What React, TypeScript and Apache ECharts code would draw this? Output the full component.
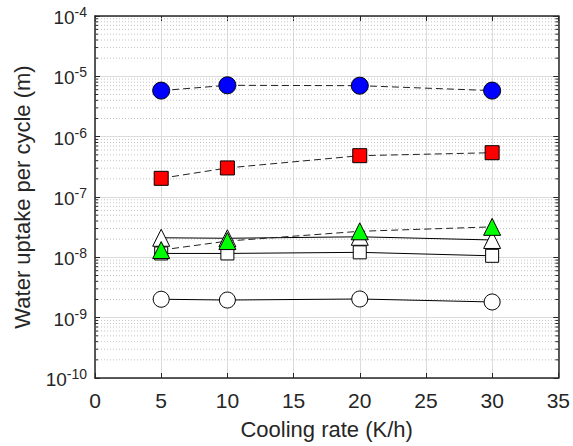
import React, { useEffect, useRef } from "react";
import * as echarts from "echarts";

const coolingRates = [5, 10, 20, 30];
const blueCircles = [5.8e-6, 7.1e-6, 7.0e-6, 5.8e-6];
const redSquares = [2.04e-7, 3.03e-7, 4.84e-7, 5.42e-7];
const greenTriangles = [1.32e-8, 1.86e-8, 2.7e-8, 3.2e-8];
const openTriangles = [2.11e-8, 2.07e-8, 2.19e-8, 1.94e-8];
const openSquares = [1.16e-8, 1.16e-8, 1.21e-8, 1.06e-8];
const openCircles = [2.02e-9, 1.96e-9, 2.04e-9, 1.82e-9];

const decades = [-10, -9, -8, -7, -6, -5];
const minorMultipliers = [2, 3, 4, 5, 6, 7, 8, 9];

const FONT = "Liberation Sans, Arial, Helvetica, sans-serif";
const TXT = "#262626";

export default function App() {
  const ref = useRef<HTMLDivElement>(null);
  useEffect(() => {
    if (!ref.current) return;
    const chart = echarts.init(ref.current, undefined, { renderer: "svg" });
    const pair = (ys: number[]) => coolingRates.map((x, i) => [x, ys[i]]);
    const minorVals: number[][] = [];
    decades.forEach((d) => minorMultipliers.forEach((m) => minorVals.push([0, m * Math.pow(10, d)])));

    const mk = (name: string, ys: number[], symbol: string, size: number, fill: string, dashed: boolean) => ({
      name,
      type: "line",
      data: pair(ys),
      symbol,
      symbolSize: size,
      showAllSymbol: true,
      itemStyle: { color: fill, borderColor: "#000", borderWidth: 1, opacity: 1 },
      lineStyle: { color: dashed ? "#222" : "#000", width: 1, type: dashed ? [7, 4] : "solid" },
      z: 3,
    });

    const axisCommon = {
      axisLine: { show: true, onZero: false, lineStyle: { color: TXT, width: 1.5 } },
      axisTick: { show: true, inside: true, length: 5, lineStyle: { color: TXT, width: 1 } },
    };

    chart.setOption({
      animation: false,
      grid: { left: 95, right: 13, top: 16, bottom: 68, containLabel: false },
      xAxis: [
        {
          type: "value",
          min: 0,
          max: 35,
          interval: 5,
          ...axisCommon,
          axisLabel: { color: TXT, fontSize: 21, fontFamily: FONT, margin: 12 },
          splitLine: { show: true, lineStyle: { color: "#dcdcdc", width: 1 } },
          name: "Cooling rate (K/h)",
          nameLocation: "middle",
          nameGap: 40,
          nameTextStyle: { color: TXT, fontSize: 22, fontFamily: FONT },
        },
        {
          type: "value",
          position: "top",
          min: 0,
          max: 35,
          interval: 5,
          ...axisCommon,
          axisLabel: { show: false },
          splitLine: { show: false },
        },
      ],
      yAxis: [
        {
          type: "log",
          logBase: 10,
          min: 1e-10,
          max: 1e-4,
          ...axisCommon,
          axisLabel: {
            fontFamily: FONT,
            margin: 8,
            formatter: (v: number) => `{b|10}{s|${Math.round(Math.log10(v))}}`,
            rich: {
              b: { color: TXT, fontSize: 19, fontFamily: FONT, verticalAlign: "bottom", lineHeight: 22, padding: [8, 0, 0, 0] },
              s: { color: TXT, fontSize: 14, fontFamily: FONT, verticalAlign: "top", lineHeight: 14, padding: [0, 0, 12, 0] },
            },
          },
          splitLine: { show: true, lineStyle: { color: "#dcdcdc", width: 1 } },
          name: "Water uptake per cycle (m)",
          nameLocation: "middle",
          nameGap: 62,
          nameTextStyle: { color: TXT, fontSize: 22, fontFamily: FONT },
        },
        {
          type: "log",
          logBase: 10,
          min: 1e-10,
          max: 1e-4,
          position: "right",
          ...axisCommon,
          axisLabel: { show: false },
          splitLine: { show: false },
        },
      ],
      series: [
        {
          type: "custom",
          silent: true,
          z: 1,
          data: minorVals,
          encode: { x: 0, y: 1 },
          renderItem: (params: any, api: any) => {
            const cs = params.coordSys;
            const y = api.coord([0, api.value(1)])[1];
            return {
              type: "group",
              children: [
                {
                  type: "line",
                  shape: { x1: cs.x, y1: y, x2: cs.x + cs.width, y2: y },
                  style: { stroke: "#c4c4c4", lineWidth: 1, lineDash: [1, 2] },
                },
                {
                  type: "line",
                  shape: { x1: cs.x, y1: y, x2: cs.x + 3, y2: y },
                  style: { stroke: TXT, lineWidth: 1 },
                },
                {
                  type: "line",
                  shape: { x1: cs.x + cs.width - 3, y1: y, x2: cs.x + cs.width, y2: y },
                  style: { stroke: TXT, lineWidth: 1 },
                },
              ],
            };
          },
        },
        mk("open circles", openCircles, "circle", 16, "#ffffff", false),
        mk("open squares", openSquares, "rect", 13, "#ffffff", false),
        mk("open triangles", openTriangles, "triangle", 17, "#ffffff", false),
        mk("green triangles", greenTriangles, "triangle", 17, "#00ff00", true),
        mk("red squares", redSquares, "rect", 14, "#ff0000", true),
        mk("blue circles", blueCircles, "circle", 17, "#0000ff", true),
      ],
    });
    return () => chart.dispose();
  }, []);
  return <div ref={ref} style={{ width: 573, height: 446, position: "absolute", left: 0, top: 0, background: "#fff" }} />;
}
